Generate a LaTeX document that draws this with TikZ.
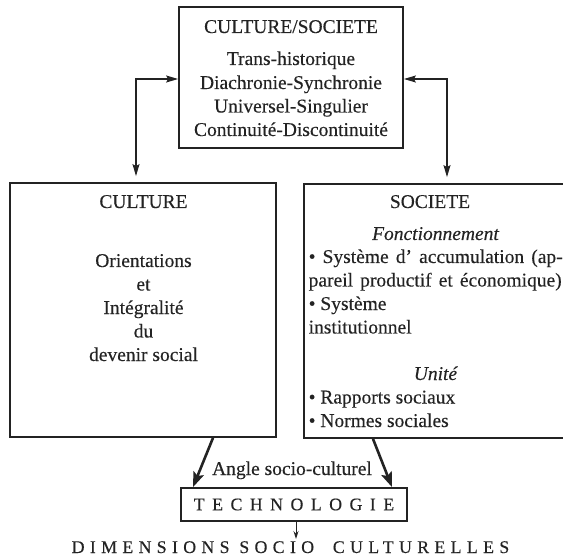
\documentclass[tikz,border=0pt]{standalone}
\usepackage{fontspec}
\setmainfont{Liberation Serif}[FakeBold=0.3]
\usetikzlibrary{arrows.meta}
\definecolor{ink}{RGB}{35,35,35}
\newcommand{\bodyfont}{\fontsize{19.5}{23.5}\selectfont}
\newcommand{\capsfont}{\fontsize{17.8}{22}\selectfont}

\begin{document}
\begin{tikzpicture}[x=1pt,y=-1pt,ink,
    box/.style={draw,line width=1.8pt,inner sep=0pt},
    txt/.style={anchor=base,inner sep=0pt,font=\bodyfont},
    ltxt/.style={txt,anchor=base west}]
  \useasboundingbox (0,0) rectangle (563,559);
  \clip (0,0) rectangle (563,559);

  % boxes:
  \node[box,minimum width=224pt,minimum height=141pt] (cs) at (291,77.5) {};
  \node[box,minimum width=266pt,minimum height=254pt] (cul) at (143,310) {};
  \node[box,minimum width=268pt,minimum height=254pt] (soc) at (438,311) {};
  \node[box,minimum width=226pt,minimum height=33pt,
        font={\capsfont\addfontfeature{LetterSpace=42}}] (tech) at (294,504.5) {TECHNOLOGIE};

  % CULTURE/SOCIETE
  \node[txt] (csHead) at (291,33) {CULTURE/SOCIETE};
  \foreach \y/\t [count=\i] in {65/Trans-historique,89/Diachronie-Synchronie,
      112.5/Universel-Singulier,136/Continuité-Discontinuité}
    \node[txt] (csLine\i) at (291,\y) {\t};

  % CULTURE
  \node[txt] (culHead) at (143.5,208) {CULTURE};
  \foreach \y/\t [count=\i] in {267/Orientations,290.5/et,314/Intégralité,
      337.5/du,361/devenir social}
    \node[txt] (culLine\i) at (143.5,\y) {\t};

  % SOCIETE
  \node[txt] (socHead) at (430,208) {SOCIETE};
  \node[txt,font=\bodyfont\itshape] (socFonct) at (435.5,240) {Fonctionnement};
  \node[ltxt] (socA) at (308.5,263) {\makebox[254pt][s]{\textbullet\ Système d’ accumulation (ap-}};
  \node[ltxt] (socB) at (308.5,286.5) {\makebox[253pt][s]{pareil productif et économique)}};
  \node[ltxt] (socC) at (308.5,310) {\textbullet\ Système};
  \node[ltxt] (socD) at (308.5,333.5) {institutionnel};
  \node[txt,font=\bodyfont\itshape] (socUnite) at (435.5,380) {Unité};
  \node[ltxt] (socE) at (308.5,403.5) {\textbullet\ Rapports sociaux};
  \node[ltxt] (socF) at (308.5,427) {\textbullet\ Normes sociales};

  \node[txt] (angle) at (292,475) {Angle socio-culturel};
  \node[txt,font={\capsfont\addfontfeature{LetterSpace=30}}] (dim) at (290.5,553)
    {DIMENSIONS SOCIO\hspace{9pt} CULTURELLES};

  \coordinate (lk) at (136,79);
  \coordinate (rk) at (447,79);

  \begin{scope}[line width=1.3pt,>={Stealth[length=12pt,width=7pt,inset=2pt]}]
    \draw[<->,shorten >=6pt] (cs.west |- lk) -| (cul.north -| lk);
    \draw[<->,shorten >=6pt] (cs.east |- rk) -| (soc.north -| rk);
  \end{scope}
  \begin{scope}[line width=2.6pt,>={Stealth[length=15pt,width=11pt,inset=3pt]}]
    \draw[->] ([xshift=70pt]cul.south) -- ([xshift=-101pt]tech.north);
    \draw[->] ([xshift=-65pt]soc.south) -- ([xshift=98pt]tech.north);
  \end{scope}
  \begin{scope}[line width=1pt,>={Stealth[length=8pt,width=5pt]}]
    \draw[->,shorten >=2pt] ([xshift=2pt]tech.south) -- ([xshift=2pt]tech.south |- dim.north);
  \end{scope}
\end{tikzpicture}
\end{document}
